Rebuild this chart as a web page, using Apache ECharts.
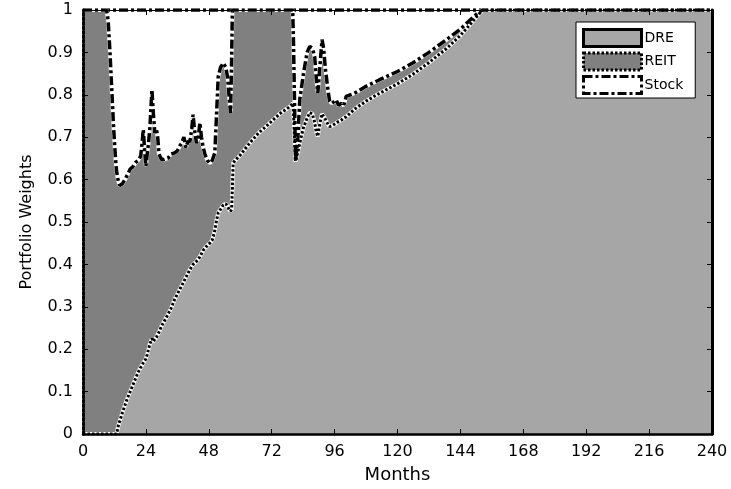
<!DOCTYPE html>
<html>
<head>
<meta charset="utf-8">
<script src="https://cdn.jsdelivr.net/npm/echarts@6/dist/echarts.min.js"></script>
<style>html,body{margin:0;padding:0;background:#fff}#c{width:731px;height:489px}</style>
</head>
<body>
<div id="c"></div>
<script>
const months = [0, 9, 9.6, 10.3, 11, 11.7, 12.4, 12.8, 13.5, 14, 15, 16, 17, 18, 19, 20, 21, 22, 22.6, 23, 23.5, 24, 24.5, 25, 25.5, 26.3, 26.8, 27.4, 28, 28.5, 29, 30, 31, 32.5, 33.5, 35, 36, 37, 37.6, 38.5, 39.3, 40, 40.8, 41.5, 42, 42.5, 43.3, 44, 44.6, 45.2, 45.8, 46.5, 47.5, 48.4, 49.3, 50.3, 51, 51.6, 52.5, 53.5, 54.5, 55.2, 55.7, 56.3, 56.7, 57, 57.3, 58, 60, 63.6, 67, 71.2, 75, 78.9, 80, 80.3, 81.1, 82, 82.7, 84, 85.5, 86.5, 87.5, 88.4, 89, 89.6, 90.3, 91.2, 91.8, 92.5, 93.5, 94.1, 95, 96.6, 97.5, 98.5, 99.5, 100.4, 104, 108, 113, 120, 125.8, 132, 138.5, 144, 148, 151, 152.5, 160, 200, 240];

// DRE portfolio weight
const dreWeight = [0, 0, 0, 0, 0, 0, 0, 0, 0.02, 0.03, 0.05, 0.068, 0.085, 0.10, 0.115, 0.13, 0.145, 0.157, 0.163, 0.168, 0.172, 0.177, 0.188, 0.20, 0.212, 0.225, 0.218, 0.218, 0.228, 0.235, 0.24, 0.255, 0.266, 0.283, 0.295, 0.318, 0.33, 0.342, 0.349, 0.36, 0.37, 0.378, 0.388, 0.395, 0.40, 0.403, 0.407, 0.41, 0.418, 0.425, 0.433, 0.438, 0.445, 0.45, 0.457, 0.48, 0.505, 0.522, 0.53, 0.54, 0.543, 0.537, 0.53, 0.525, 0.53, 0.58, 0.639, 0.645, 0.658, 0.686, 0.71, 0.733, 0.755, 0.772, 0.78, 0.76, 0.643, 0.665, 0.686, 0.72, 0.745, 0.758, 0.755, 0.735, 0.712, 0.702, 0.73, 0.755, 0.752, 0.742, 0.73, 0.725, 0.727, 0.733, 0.737, 0.74, 0.745, 0.748, 0.768, 0.785, 0.803, 0.826, 0.848, 0.876, 0.908, 0.94, 0.968, 0.99, 1, 1, 1, 1];

// Stock portfolio weight
const stockWeight = [0, 0, 0.025, 0.1, 0.19, 0.28, 0.35, 0.38, 0.405, 0.414, 0.41, 0.40, 0.388, 0.375, 0.37, 0.36, 0.355, 0.345, 0.31, 0.282, 0.33, 0.368, 0.34, 0.314, 0.28, 0.188, 0.24, 0.29, 0.28, 0.30, 0.34, 0.353, 0.352, 0.349, 0.34, 0.337, 0.332, 0.32, 0.314, 0.30, 0.325, 0.31, 0.31, 0.28, 0.247, 0.28, 0.314, 0.30, 0.266, 0.30, 0.322, 0.34, 0.355, 0.361, 0.355, 0.337, 0.24, 0.157, 0.135, 0.125, 0.135, 0.16, 0.20, 0.243, 0.12, 0, 0, 0, 0, 0, 0, 0, 0, 0, 0, 0.07, 0.357, 0.30, 0.212, 0.155, 0.10, 0.086, 0.09, 0.11, 0.16, 0.196, 0.14, 0.07, 0.09, 0.14, 0.19, 0.215, 0.22, 0.212, 0.225, 0.22, 0.225, 0.204, 0.195, 0.18, 0.165, 0.145, 0.125, 0.10, 0.071, 0.045, 0.022, 0.005, 0, 0, 0, 0];

// REIT weight is the remainder of the fully invested portfolio
const reitWeight = months.map((m, i) => +(1 - dreWeight[i] - stockWeight[i]).toFixed(4));

const seriesNames = ['DRE', 'REIT', 'Stock'];
const xTickValues = [0, 24, 48, 72, 96, 120, 144, 168, 192, 216, 240];
const yTickValues = [0, 0.1, 0.2, 0.3, 0.4, 0.5, 0.6, 0.7, 0.8, 0.9, 1];

// Cumulative (stacked) levels: DRE at the bottom, then REIT, then Stock up to 1
const dreLevel = months.map((m, i) => [m, dreWeight[i]]);
const reitLevel = months.map((m, i) => [m, +(dreWeight[i] + reitWeight[i]).toFixed(4)]);
const stockLevel = months.map((m, i) => [m, +(dreWeight[i] + reitWeight[i] + stockWeight[i]).toFixed(4)]);

const FONT = "'DejaVu Sans', 'Liberation Sans', Arial, sans-serif";
const cDRE = '#a6a6a6', cREIT = '#808080', cStock = '#ffffff';
const DOT = [2.5, 2], DASHDOT = [9, 3, 3, 3];

const baseX = {
  type: 'value', min: xTickValues[0], max: xTickValues[xTickValues.length - 1],
  interval: xTickValues[1] - xTickValues[0], z: 10, splitLine: { show: false }
};
const baseY = {
  type: 'value', min: yTickValues[0], max: yTickValues[yTickValues.length - 1],
  interval: 0.1, z: 10, splitLine: { show: false }
};
const tick = { inside: true, length: 5, lineStyle: { color: '#000', width: 1 } };

const chart = echarts.init(document.getElementById('c'), null, { renderer: 'canvas' });
chart.setOption({
  animation: false,
  backgroundColor: '#fff',
  textStyle: { fontFamily: FONT },
  grid: { left: 83, right: 19, top: 10, bottom: 53.5, containLabel: false },
  legend: {
    orient: 'vertical', left: 576, top: 22, z: 20,
    padding: [6, 12, 3, 6], itemGap: 3.5, itemWidth: 58, itemHeight: 17,
    backgroundColor: '#fff', borderColor: '#000', borderWidth: 1, borderRadius: 0,
    selectedMode: false, icon: 'rect',
    textStyle: { fontFamily: FONT, fontSize: 14, color: '#000', padding: [0, 0, 0, -2] },
    data: [
      { name: seriesNames[0], icon: 'rect', itemStyle: { color: cDRE, borderColor: '#000', borderWidth: 3, borderType: 'solid' } },
      { name: seriesNames[1], icon: 'rect', itemStyle: { color: cREIT, borderColor: '#000', borderWidth: 3, borderType: DOT } },
      { name: seriesNames[2], icon: 'rect', itemStyle: { color: cStock, borderColor: '#000', borderWidth: 3, borderType: DASHDOT } }
    ]
  },
  xAxis: [
    Object.assign({}, baseX, {
      position: 'bottom', name: 'Months', nameLocation: 'middle', nameGap: 32,
      nameTextStyle: { fontFamily: FONT, fontSize: 18, color: '#000' },
      axisLine: { onZero: false, lineStyle: { color: '#000', width: 2.5 } },
      axisTick: tick,
      axisLabel: { margin: 10, fontFamily: FONT, fontSize: 16, color: '#000' }
    }),
    Object.assign({}, baseX, {
      position: 'top',
      axisLine: { onZero: false, lineStyle: { color: '#000', width: 1 } },
      axisTick: tick, axisLabel: { show: false }
    })
  ],
  yAxis: [
    Object.assign({}, baseY, {
      position: 'left', name: 'Portfolio Weights', nameLocation: 'middle', nameGap: 48,
      nameTextStyle: { fontFamily: FONT, fontSize: 16, color: '#000' },
      axisLine: { onZero: false, lineStyle: { color: '#000', width: 3, type: DOT } },
      axisTick: tick,
      axisLabel: { margin: 10, fontFamily: FONT, fontSize: 16, color: '#000' }
    }),
    Object.assign({}, baseY, {
      position: 'right',
      axisLine: { onZero: false, lineStyle: { color: '#000', width: 3 } },
      axisTick: tick, axisLabel: { show: false }
    })
  ],
  series: [
    { name: seriesNames[2], type: 'line', data: stockLevel, symbol: 'none', z: 2,
      itemStyle: { color: cStock }, lineStyle: { color: '#000', width: 3.5, type: DASHDOT },
      areaStyle: { color: cStock, opacity: 1, origin: 'start' } },
    { name: seriesNames[1], type: 'line', data: reitLevel, symbol: 'none', z: 2,
      itemStyle: { color: cREIT }, lineStyle: { width: 0, opacity: 0 },
      areaStyle: { color: cREIT, opacity: 1, origin: 'start' } },
    { name: seriesNames[0], type: 'line', data: dreLevel, symbol: 'none', z: 2,
      itemStyle: { color: cDRE }, lineStyle: { width: 0, opacity: 0 },
      areaStyle: { color: cDRE, opacity: 1, origin: 'start' } },
    { name: 'dreEdgeBase', type: 'line', data: dreLevel, symbol: 'none', z: 3, silent: true,
      lineStyle: { color: '#fff', width: 4 } },
    { name: 'dreEdge', type: 'line', data: dreLevel, symbol: 'none', z: 4, silent: true,
      lineStyle: { color: '#000', width: 3, type: DOT } },
    { name: 'reitEdgeBase', type: 'line', data: reitLevel, symbol: 'none', z: 3, silent: true,
      lineStyle: { color: '#fff', width: 4 } },
    { name: 'reitEdge', type: 'line', data: reitLevel, symbol: 'none', z: 4, silent: true,
      lineStyle: { color: '#000', width: 3.5, type: DASHDOT } }
  ]
});
</script>
</body>
</html>
